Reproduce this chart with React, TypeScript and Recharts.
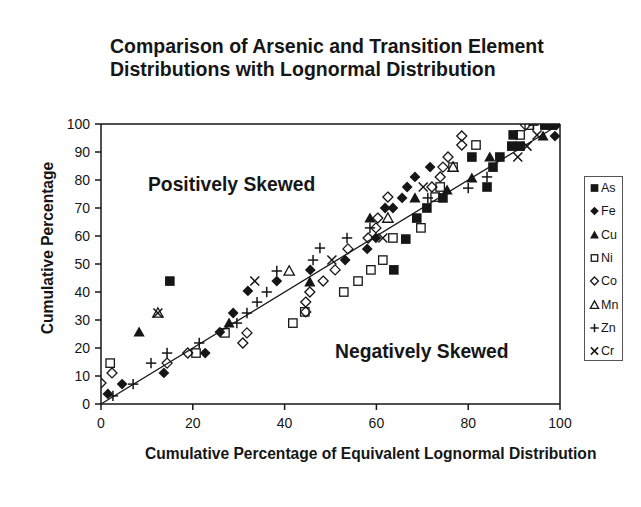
import React from "react";
import { ScatterChart, Scatter, XAxis, YAxis, ReferenceLine } from "recharts";

const TITLE_LINES = [
  "Comparison of Arsenic and Transition Element",
  "Distributions with Lognormal Distribution",
];
const X_TITLE = "Cumulative Percentage of Equivalent Lognormal Distribution";
const Y_TITLE = "Cumulative Percentage";
const NOTE_POS = "Positively Skewed";
const NOTE_NEG = "Negatively Skewed";
const X_TICKS = [0, 20, 40, 60, 80, 100];
const Y_TICKS = [0, 10, 20, 30, 40, 50, 60, 70, 80, 90, 100];
const SERIES_NAMES = ["As", "Fe", "Cu", "Ni", "Co", "Mn", "Zn", "Cr"];

const AS: number[][] = [
  [15.0, 43.9], [63.8, 47.9], [66.4, 58.9], [68.8, 66.4], [71.0, 70.0], [74.5, 73.6],
  [84.1, 77.5], [85.4, 84.6], [80.8, 88.2], [86.9, 88.2], [89.5, 92.1], [91.3, 92.1],
  [89.8, 96.1], [96.7, 99.6], [98.2, 99.6],
];
const FE: number[][] = [
  [1.5, 3.6], [4.6, 7.1], [13.7, 11.1], [22.7, 18.2], [25.9, 25.7], [28.8, 32.5],
  [32.0, 40.4], [38.3, 43.9], [45.6, 47.9], [53.2, 51.4], [58.0, 55.4], [59.9, 59.3],
  [61.9, 70.0], [63.6, 70.0], [65.6, 73.6], [66.7, 77.5], [68.4, 81.1], [71.7, 84.6],
  [98.9, 95.7], [99.2, 99.6],
];
const CU: number[][] = [
  [8.3, 25.7], [27.9, 28.9], [45.5, 43.6], [58.6, 66.4], [68.4, 73.6], [75.4, 76.4],
  [80.8, 80.7], [84.7, 88.2], [96.3, 95.7],
];
const NI: number[][] = [
  [2.0, 14.6], [20.7, 18.2], [27.0, 25.4], [41.8, 28.9], [44.4, 32.9], [52.9, 40.0],
  [56.0, 43.9], [58.8, 47.9], [61.4, 51.4], [63.6, 59.3], [69.7, 62.9], [72.8, 73.9],
  [73.9, 77.5], [76.7, 84.6], [81.7, 92.5], [91.3, 96.1], [93.3, 99.6],
];
const CO: number[][] = [
  [0, 7.5], [2.4, 11.1], [14.4, 14.6], [18.9, 18.2], [30.9, 21.8], [31.8, 25.4],
  [44.6, 32.9], [44.6, 36.4], [45.5, 40.0], [48.4, 43.9], [51.0, 47.9], [53.8, 55.4],
  [58.2, 59.3], [59.9, 62.9], [60.3, 66.4], [62.5, 73.9], [72.1, 77.5], [73.9, 81.1],
  [74.5, 84.6], [75.6, 88.2], [78.6, 92.5], [78.6, 95.7], [92.5, 99.6],
];
const MN: number[][] = [[12.4, 32.5], [41.0, 47.5], [62.5, 66.4], [76.7, 84.6]];
const ZN: number[][] = [
  [2.6, 2.9], [7.0, 7.1], [10.9, 14.6], [14.4, 18.2], [21.4, 21.8], [29.6, 28.9],
  [31.8, 32.5], [34.0, 36.4], [36.1, 40.0], [38.3, 47.5], [46.2, 51.4], [47.7, 55.7],
  [53.6, 59.3], [58.6, 62.9], [71.2, 73.6], [80.0, 77.1], [84.1, 81.1], [94.2, 99.6],
];
const CR: number[][] = [
  [12.4, 32.5], [33.5, 43.9], [50.3, 51.4], [61.4, 59.3], [70.2, 77.5], [90.8, 88.2],
  [92.8, 92.1], [95.0, 96.1],
];

const INK = "#161616";
const FONT = "Arial, 'Liberation Sans', Helvetica, sans-serif";

type Kind =
  | "fsquare" | "fdiamond" | "ftriangle" | "osquare" | "odiamond" | "otriangle" | "plus" | "cross";

const KINDS: Kind[] = ["fsquare", "fdiamond", "ftriangle", "osquare", "odiamond", "otriangle", "plus", "cross"];
const SERIES_DATA = [AS, FE, CU, NI, CO, MN, ZN, CR];

function Marker({ kind, cx, cy, s = 1 }: { kind: Kind; cx: number; cy: number; s?: number }) {
  const h = 4.8 * s;
  switch (kind) {
    case "fsquare":
      return <rect x={cx - h} y={cy - h} width={2 * h} height={2 * h} fill={INK} />;
    case "osquare":
      return <rect x={cx - h + 0.6} y={cy - h + 0.6} width={2 * h - 1.2} height={2 * h - 1.2} fill="none" stroke={INK} strokeWidth={1.3} />;
    case "fdiamond": {
      const d = 5.4 * s;
      return <polygon points={`${cx},${cy - d} ${cx + d},${cy} ${cx},${cy + d} ${cx - d},${cy}`} fill={INK} />;
    }
    case "odiamond": {
      const d = 5.0 * s;
      return <polygon points={`${cx},${cy - d} ${cx + d},${cy} ${cx},${cy + d} ${cx - d},${cy}`} fill="none" stroke={INK} strokeWidth={1.3} />;
    }
    case "ftriangle": {
      const d = 5.6 * s;
      return <polygon points={`${cx},${cy - d} ${cx + d},${cy + d * 0.8} ${cx - d},${cy + d * 0.8}`} fill={INK} />;
    }
    case "otriangle": {
      const d = 5.2 * s;
      return <polygon points={`${cx},${cy - d} ${cx + d},${cy + d * 0.8} ${cx - d},${cy + d * 0.8}`} fill="none" stroke={INK} strokeWidth={1.3} />;
    }
    case "plus": {
      const d = 5.2 * s;
      return (
        <g stroke={INK} strokeWidth={1.5}>
          <line x1={cx - d} y1={cy} x2={cx + d} y2={cy} />
          <line x1={cx} y1={cy - d} x2={cx} y2={cy + d} />
        </g>
      );
    }
    case "cross": {
      const d = 4.5 * s;
      return (
        <g stroke={INK} strokeWidth={1.5}>
          <line x1={cx - d} y1={cy - d} x2={cx + d} y2={cy + d} />
          <line x1={cx - d} y1={cy + d} x2={cx + d} y2={cy - d} />
        </g>
      );
    }
  }
  return null;
}

const toPoints = (arr: number[][]) => arr.map(([x, y]) => ({ x, y }));

export default function App() {
  const W = 633;
  const H = 499;
  return (
    <div style={{ position: "relative", width: W, height: H, background: "#ffffff", fontFamily: FONT, color: INK }}>
      <ScatterChart
        width={W}
        height={H}
        margin={{ top: 116, right: 81, bottom: 73, left: 33 }}
      >
        <XAxis
          type="number"
          dataKey="x"
          domain={[0, 100]}
          ticks={X_TICKS}
          allowDataOverflow
          tickSize={6}
          tickMargin={8}
          height={30}
          stroke={INK}
          strokeWidth={1.5}
          tick={{ fill: INK, fontSize: 14, fontFamily: FONT }}
        />
        <YAxis
          type="number"
          dataKey="y"
          domain={[0, 100]}
          ticks={Y_TICKS}
          allowDataOverflow
          tickSize={6}
          tickMargin={5}
          width={60}
          stroke={INK}
          strokeWidth={1.5}
          tick={{ fill: INK, fontSize: 14, fontFamily: FONT }}
        />
        <ReferenceLine y={100} stroke={INK} strokeWidth={1.5} />
        <ReferenceLine x={100} stroke={INK} strokeWidth={1.5} />
        <ReferenceLine
          segment={[{ x: 0, y: 0 }, { x: 100, y: 100 }]}
          stroke={INK}
          strokeWidth={1.3}
        />
        {SERIES_NAMES.map((name, i) => (
          <Scatter
            key={name}
            name={name}
            data={toPoints(SERIES_DATA[i])}
            isAnimationActive={false}
            shape={(p: any) => <Marker kind={KINDS[i]} cx={p.cx} cy={p.cy} />}
          />
        ))}
      </ScatterChart>

      <div style={{ position: "absolute", left: 102, top: 27, fontSize: 19.5, fontWeight: 700, lineHeight: "23px", whiteSpace: "nowrap" }}>
        {TITLE_LINES.map((t) => (
          <div key={t}>{t}</div>
        ))}
      </div>

      <div style={{ position: "absolute", left: 140, top: 177, transform: "translateY(-50%)", fontSize: 19.3, fontWeight: 700, whiteSpace: "nowrap" }}>
        {NOTE_POS}
      </div>
      <div style={{ position: "absolute", left: 327, top: 344, transform: "translateY(-50%)", fontSize: 19.3, fontWeight: 700, whiteSpace: "nowrap" }}>
        {NOTE_NEG}
      </div>

      <div style={{ position: "absolute", left: 137, top: 446, transform: "translateY(-50%)", fontSize: 15.6, fontWeight: 700, whiteSpace: "nowrap" }}>
        {X_TITLE}
      </div>
      <div style={{ position: "absolute", left: 40, top: 240, transform: "translate(-50%, -50%) rotate(-90deg)", fontSize: 15.6, fontWeight: 700, whiteSpace: "nowrap" }}>
        {Y_TITLE}
      </div>

      <div style={{ position: "absolute", left: 576, top: 168, width: 39, height: 185, border: "1px solid #555", boxSizing: "border-box" }}>
        {SERIES_NAMES.map((name, i) => (
          <div key={name} style={{ position: "absolute", left: 0, top: 11 + i * 23.3, transform: "translateY(-50%)", display: "flex", alignItems: "center", fontSize: 12.5, lineHeight: "14px" }}>
            <svg width={13} height={12} style={{ marginLeft: 3 }}>
              <Marker kind={KINDS[i]} cx={6.5} cy={6} s={0.8} />
            </svg>
            <span>{name}</span>
          </div>
        ))}
      </div>
    </div>
  );
}
